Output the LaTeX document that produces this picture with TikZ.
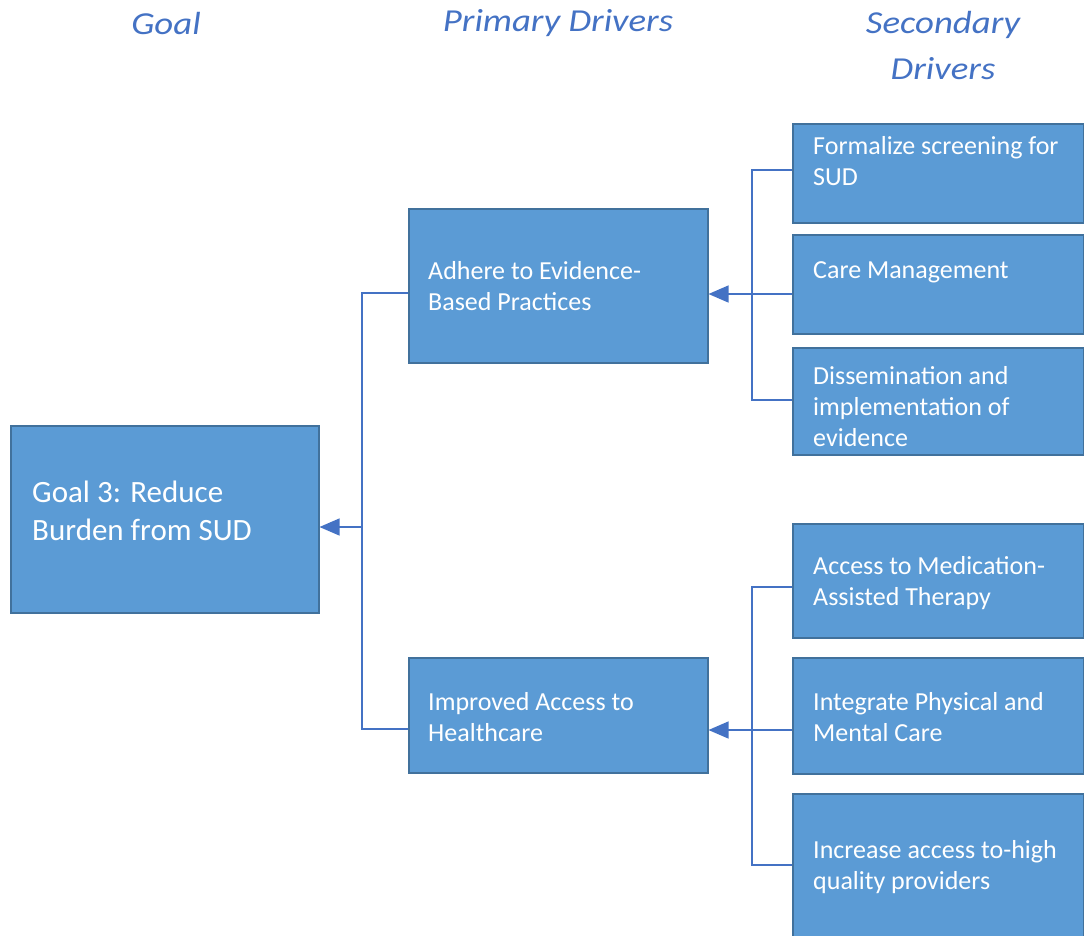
\documentclass[tikz,border=0pt]{standalone}
\usepackage{fontspec}
\setmainfont{Carlito}
\newfontfamily\headfont[FakeStretch=1.15]{Carlito}
\usetikzlibrary{arrows.meta}
\definecolor{boxfill}{HTML}{5B9BD5}
\definecolor{boxline}{HTML}{41719C}
\definecolor{linkc}{HTML}{4472C4}
\definecolor{headc}{HTML}{4472C4}
\begin{document}
\begin{tikzpicture}[x=1pt,y=-1pt,
  box/.style={draw=boxline, line width=1.5pt, fill=boxfill, inner sep=0pt, rectangle, anchor=north west},
  txt/.style={text=white, align=left, inner sep=0pt, anchor=west, font=\fontsize{26}{31}\selectfont},
  goaltxt/.style={txt, font=\fontsize{31}{38}\selectfont},
  head/.style={text=headc, font=\headfont\itshape\fontsize{32}{46}\selectfont, align=center, inner sep=0pt},
  link/.style={draw=linkc, line width=1.3pt},
  arr/.style={link, -{Triangle[length=20pt,width=17pt]}}]
\useasboundingbox (0,0) rectangle (1084,935);
\clip (0,0) rectangle (1084,935);
% headers
\node[head] (h1) at (166,23) {Goal};
\node[head] (h2) at (558,23) {Primary Drivers};
\node[head] (h3) at (943,46) {Secondary\\Drivers};
% boxes
\node[box, minimum width=308pt, minimum height=187pt] (goal) at (10,425) {};
\node[box, minimum width=299pt, minimum height=154pt] (adhere) at (408,208) {};
\node[box, minimum width=299pt, minimum height=115pt] (improved) at (408,657) {};
\node[box, minimum width=291pt, minimum height=99pt] (formalize) at (792,123) {};
\node[box, minimum width=291pt, minimum height=99pt] (care) at (792,234) {};
\node[box, minimum width=291pt, minimum height=107pt] (dissem) at (792,347) {};
\node[box, minimum width=291pt, minimum height=114pt] (access) at (792,523) {};
\node[box, minimum width=291pt, minimum height=116pt] (integrate) at (792,657) {};
\node[box, minimum width=291pt, minimum height=160pt] (increase) at (792,793) {};
% texts
\node[goaltxt] (tgoal) at (32,511) {Goal 3: Reduce\\Burden from SUD};
\node[txt] (tadhere) at (428,286) {Adhere to Evidence-\\Based Practices};
\node[txt] (timproved) at (428,717) {Improved Access to\\Healthcare};
\node[txt] (tformalize) at (813,161) {Formalize screening for\\SUD};
\node[txt] (tcare) at (813,272) {Care Management};
\node[txt] (tdissem) at (813,407) {Dissemination and\\implementation of\\evidence};
\node[txt] (taccess) at (813,583) {Access to Medication-\\Assisted Therapy};
\node[txt] (tintegrate) at (813,717) {Integrate Physical and\\Mental Care};
\node[txt] (tincrease) at (813,867) {Increase access to-high\\quality providers};
% connectors
\coordinate (j1) at (362,527);
\coordinate (j2) at (752,294);
\coordinate (j3) at (752,730);
\draw[link] (adhere.west |- {(0,293)}) -| (362,729) -- (improved.west |- {(0,729)});
\draw[arr] (j1) -- (goal.east |- j1);
\draw[link] (formalize.west |- {(0,170)}) -| (752,400) -- (dissem.west |- {(0,400)});
\draw[arr] (care.west |- j2) -- (adhere.east |- j2);
\draw[link] (access.west |- {(0,587)}) -| (752,865) -- (increase.west |- {(0,865)});
\draw[arr] (integrate.west |- j3) -- (improved.east |- j3);
\end{tikzpicture}
\end{document}
